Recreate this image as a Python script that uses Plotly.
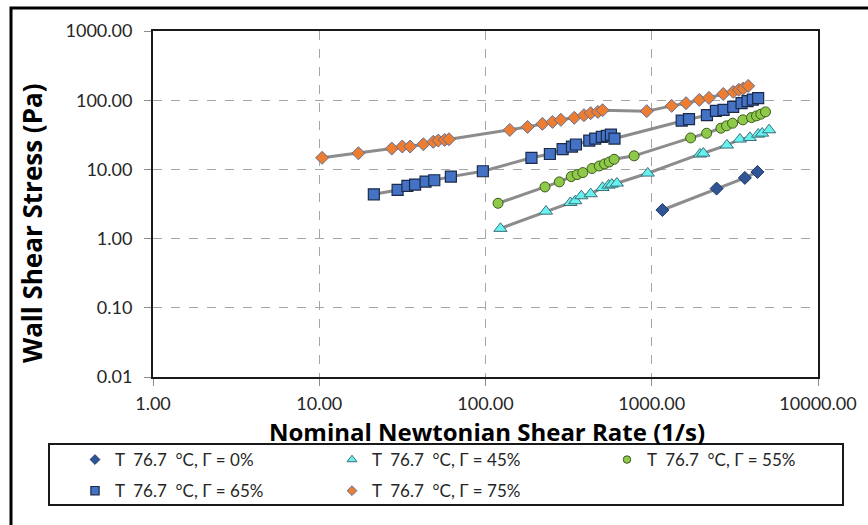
import plotly.graph_objects as go

# Wall shear stress vs nominal Newtonian shear rate at 76.7 °C for several gas fractions
rate_0 = [1159, 2455, 3631, 4325]
tau_0 = [2.59, 5.28, 7.54, 9.20]

rate_45 = [123, 231, 324, 347, 377, 429, 506, 550, 575, 617, 946, 1950, 2042, 2831, 3388, 3890, 4365, 4613, 5082]
tau_45 = [1.40, 2.48, 3.31, 3.51, 4.14, 4.43, 5.46, 5.90, 6.10, 6.31, 8.81, 16.6, 17.1, 22.4, 27.3, 28.8, 32.2, 33.3, 37.2]

rate_55 = [119, 228, 278, 328, 356, 385, 437, 483, 520, 555, 594, 783, 1714, 2138, 2606, 2818, 3062, 3532, 3981, 4266, 4529, 4831]
tau_55 = [3.24, 5.58, 6.60, 7.87, 8.41, 8.99, 10.3, 11.2, 12.0, 12.8, 14.0, 15.7, 28.5, 33.3, 39.4, 42.6, 46.5, 52.0, 56.1, 59.3, 62.8, 67.8]

rate_65 = [21.3, 29.6, 33.9, 37.7, 43.6, 49.2, 61.9, 96.4, 189, 244, 291, 331, 350, 421, 457, 501, 537, 568, 597,
           1514, 1675, 2148, 2432, 2704, 3090, 3467, 3767, 4055, 4365]
tau_65 = [4.37, 5.05, 5.77, 6.04, 6.67, 6.97, 7.87, 9.40, 14.7, 16.7, 19.6, 21.4, 22.9, 26.1, 27.9, 29.5, 30.5, 31.9, 27.9,
          50.8, 53.1, 60.7, 70.1, 72.4, 80.1, 90.5, 96.7, 102, 107]

rate_75 = [10.4, 17.2, 27.3, 31.6, 35.2, 42.3, 48.5, 52.0, 56.8, 60.3, 140, 179, 220, 253, 284, 342, 391, 429, 474, 506,
           933, 1318, 1607, 1932, 2208, 2692, 3090, 3342, 3548, 3802]
tau_75 = [14.7, 17.1, 20.0, 21.4, 21.4, 23.1, 25.0, 26.1, 26.7, 27.3, 37.2, 41.1, 45.5, 48.6, 52.0, 55.6, 60.7, 64.9, 67.8, 71.6,
          69.5, 82.8, 90.5, 101, 108, 123, 132, 141, 147, 161]

series_names = [
    "T\u00a0 76.7\u00a0 °C, Γ = 0%",
    "T\u00a0 76.7\u00a0 °C, Γ = 45%",
    "T\u00a0 76.7\u00a0 °C, Γ = 55%",
    "T\u00a0 76.7\u00a0 °C, Γ = 65%",
    "T\u00a0 76.7\u00a0 °C, Γ = 75%",
]

x_ticks = [1, 10, 100, 1000, 10000]
y_ticks = [0.01, 0.1, 1, 10, 100, 1000]

FONT = "Lato, 'Liberation Sans', sans-serif"
TITLE_FONT = "'Open Sans', 'Noto Sans', sans-serif"
TXT = "#262626"

# plot-area geometry in pixels (for placing decorations outside the axes)
W, H = 868, 525
L, R, T, B = 153, 50, 31, 148
PW, PH = W - L - R, H - T - B


def px_x(p):
    return (p - L) / PW


def px_y(p):
    return (H - B - p) / PH


styles = [
    dict(symbol="diamond", size=10, color="#2f5597", line=dict(color="#1f3864", width=1)),
    dict(symbol="triangle-up", size=11.5, color="#66f2ee", line=dict(color="#3d6f78", width=1)),
    dict(symbol="circle", size=10, color="#8fc94a", line=dict(color="#3b5a1e", width=1)),
    dict(symbol="square", size=11, color="#4472c4", line=dict(color="#1c2a48", width=1.2)),
    dict(symbol="diamond", size=10, color="#ed7d31", line=dict(color="#5e6f98", width=1)),
]
data = [(rate_0, tau_0), (rate_45, tau_45), (rate_55, tau_55), (rate_65, tau_65), (rate_75, tau_75)]
legend_of = ["legend", "legend2", "legend3", "legend", "legend2"]

fig = go.Figure()
for (xs, ys), st in zip(data, styles):
    fig.add_trace(go.Scatter(
        x=xs, y=ys, mode="lines+markers",
        line=dict(color="rgba(128,128,128,0.9)", width=3),
        marker=st, showlegend=False, hoverinfo="skip",
    ))

# legend entries (markers only, smaller symbols)
for name, st, lg in zip(series_names, styles, legend_of):
    s = dict(st)
    s["size"] = st["size"] * 0.75
    fig.add_trace(go.Scatter(
        x=[None], y=[None], mode="markers", marker=s, name=name,
        legend=lg, legendgroup=name, showlegend=True,
    ))

axis_common = dict(
    type="log", showgrid=True, gridcolor="#a6a6a6", gridwidth=1, griddash="dash",
    showline=True, linecolor="#1a1a1a", linewidth=2, mirror=True,
    ticks="outside", tickcolor="#8c8c8c", ticklen=7, zeroline=False,
    tickfont=dict(family=FONT, size=18, color=TXT),
)

fig.update_xaxes(range=[0, 4], tickvals=x_ticks, ticktext=[f"{v:.2f}" for v in x_ticks],
                 ticklabelstandoff=2, **axis_common)
fig.update_yaxes(range=[-2, 3], tickvals=y_ticks, ticktext=[f"{v:.2f}" for v in y_ticks],
                 ticklabelstandoff=8, **axis_common)

leg_common = dict(orientation="v", bgcolor="rgba(0,0,0,0)", borderwidth=0,
                  font=dict(family=FONT, size=17, color=TXT),
                  traceorder="grouped", tracegroupgap=6,
                  xanchor="left", yanchor="top", y=px_y(442))

fig.update_layout(
    width=W, height=H,
    margin=dict(l=L, r=R, t=T, b=B),
    paper_bgcolor="white", plot_bgcolor="white",
    legend=dict(x=px_x(75), **leg_common),
    legend2=dict(x=px_x(332), **leg_common),
    legend3=dict(x=px_x(607), **leg_common),
    annotations=[
        dict(text="<b>Nominal Newtonian Shear Rate (1/s)</b>", xref="paper", yref="paper",
             x=px_x(487), y=px_y(431), xanchor="center", yanchor="middle", showarrow=False,
             font=dict(family=TITLE_FONT, size=24, color="black")),
        dict(text="<b>Wall Shear Stress (Pa)</b>", xref="paper", yref="paper",
             x=px_x(32), y=px_y(223), xanchor="center", yanchor="middle", showarrow=False,
             textangle=-90, font=dict(family=TITLE_FONT, size=26, color="black")),
    ],
    shapes=[
        # legend frame
        dict(type="rect", xref="paper", yref="paper",
             x0=px_x(49), x1=px_x(843), y0=px_y(444), y1=px_y(505),
             line=dict(color="#1a1a1a", width=2), fillcolor="rgba(0,0,0,0)"),
        # chart-area frame
        dict(type="rect", xref="paper", yref="paper",
             x0=px_x(11), x1=px_x(890), y0=px_y(8), y1=px_y(560),
             line=dict(color="black", width=3), fillcolor="rgba(0,0,0,0)"),
    ],
)

fig.write_html("out.html")
